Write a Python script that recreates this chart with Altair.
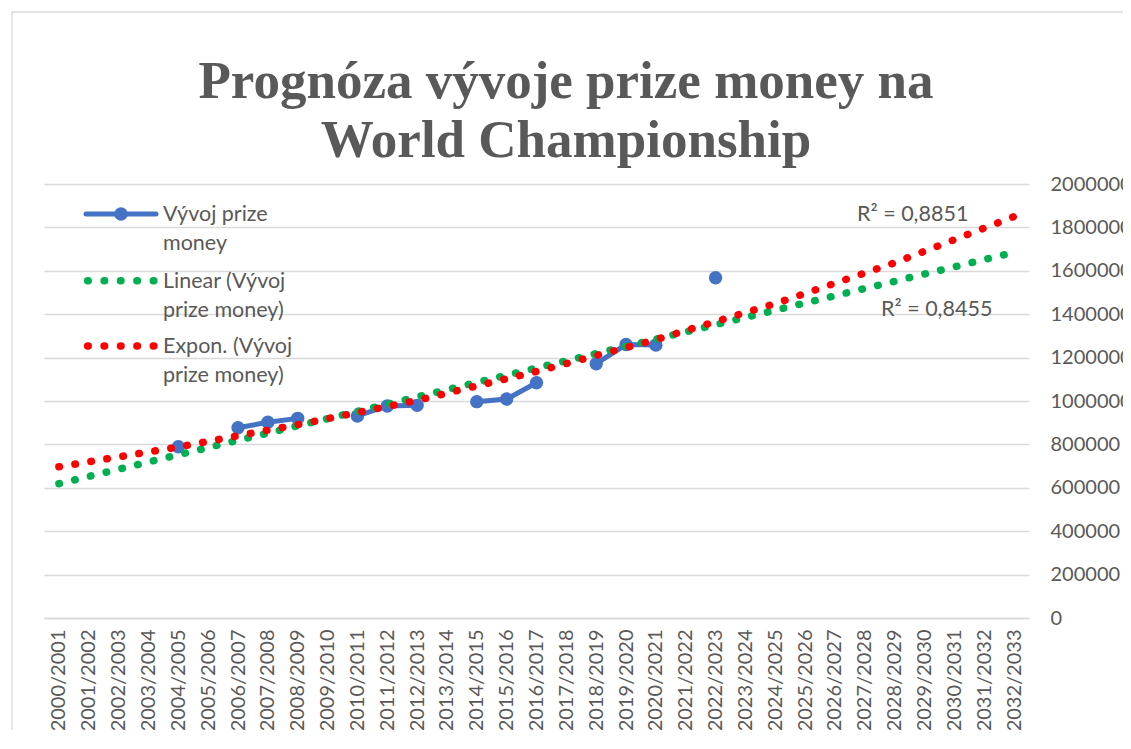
import altair as alt
import pandas as pd

# ---------------- data ----------------
seasons = [
    "2000/2001", "2001/2002", "2002/2003", "2003/2004", "2004/2005", "2005/2006",
    "2006/2007", "2007/2008", "2008/2009", "2009/2010", "2010/2011", "2011/2012",
    "2012/2013", "2013/2014", "2014/2015", "2015/2016", "2016/2017", "2017/2018",
    "2018/2019", "2019/2020", "2020/2021", "2021/2022", "2022/2023", "2023/2024",
    "2024/2025", "2025/2026", "2026/2027", "2027/2028", "2028/2029", "2029/2030",
    "2030/2031", "2031/2032", "2032/2033",
]
prize = [
    None, None, None, None, 789000, None,
    877000, 902000, 920000, None, 931000, 977000,
    980000, None, 997000, 1009000, 1084000, None,
    1172000, 1260000, 1258000, None, 1568000, None,
    None, None, None, None, None, None,
    None, None, None,
]
lin_seasons = ["2000/2001", "2032/2033"]
lin_values = [619000, 1685000]
exp_seasons = ["2000/2001", "2004/2005", "2008/2009", "2012/2013", "2016/2017",
               "2020/2021", "2024/2025", "2028/2029", "2032/2033"]
exp_values = [697000, 788000, 891000, 1003000, 1136000, 1283000, 1449000, 1637000, 1850000]
y_ticks = [0, 200000, 400000, 600000, 800000, 1000000, 1200000, 1400000, 1600000, 1800000, 2000000]

title_lines = ["Prognóza vývoje prize money na", "World Championship"]
r2_exp = "R² = 0,8851"
r2_lin = "R² = 0,8455"

# ---------------- tables ----------------
rows = []
seg = 0
prev = None
for s, v in zip(seasons, prize):
    if v is None:
        prev = None
        continue
    if prev is None:
        seg += 1
    rows.append({"season": s, "value": v, "seg": seg})
    prev = v
obs = pd.DataFrame(rows)
lin = pd.DataFrame({"season": lin_seasons, "value": lin_values, "order": range(len(lin_seasons))})
expo = pd.DataFrame({"season": exp_seasons, "value": exp_values, "order": range(len(exp_seasons))})

BLUE = "#4472C4"
GREEN = "#00B050"
RED = "#FF0000"
GREY = "#595959"
GRID = "#D9D9D9"
FONT = "Lato"

W, H = 985, 434

x_enc = alt.X(
    "season:N",
    sort=seasons,
    scale=alt.Scale(domain=seasons),
    axis=alt.Axis(
        title=None, labelAngle=270, labelFontSize=20, labelFont=FONT, labelColor=GREY,
        labelPadding=11, ticks=False, domain=True, domainColor=GRID, domainWidth=1.3,
        grid=False, labelLimit=200,
    ),
)
y_enc = alt.Y(
    "value:Q",
    scale=alt.Scale(domain=[0, 2000000], nice=False, zero=True),
    axis=alt.Axis(
        title=None, orient="right", values=y_ticks, format="d", labelFontSize=20,
        labelFont=FONT, labelColor=GREY, labelPadding=21, ticks=False, domain=False,
        grid=True, gridColor=GRID, gridWidth=1.3,
    ),
)

base_obs = alt.Chart(obs)
blue_line = base_obs.mark_line(color=BLUE, strokeWidth=5, strokeCap="round").encode(
    x=x_enc, y=y_enc, detail="seg:N"
)
blue_pts = base_obs.mark_circle(color=BLUE, size=180, opacity=1).encode(x=x_enc, y=y_enc)

dots = dict(strokeWidth=7.5, strokeCap="round", strokeDash=[0.5, 15.7])
green_trend = alt.Chart(lin).mark_line(color=GREEN, **dots).encode(
    x=x_enc, y=y_enc, order="order:Q"
)
red_trend = alt.Chart(expo).mark_line(color=RED, **dots).encode(
    x=x_enc, y=y_enc, order="order:Q"
)

# ---------------- decorations (title, legend, labels, border) ----------------
one = alt.Chart(pd.DataFrame({"k": [0]}))

border = one.mark_rect(filled=False, stroke=GRID, strokeWidth=1.3).encode(
    x=alt.value(-32), x2=alt.value(1100), y=alt.value(-172), y2=alt.value(600)
)

def txt(label, x, y, size=21.5):
    return one.mark_text(
        text=label, font=FONT, fontSize=size, color=GREY, align="left", baseline="middle"
    ).encode(x=alt.value(x), y=alt.value(y))

def title_txt(label, y):
    return one.mark_text(
        text=label, font="Liberation Serif", fontSize=53, fontWeight="bold", color=GREY,
        align="center", baseline="alphabetic",
    ).encode(x=alt.value(522), y=alt.value(y))

titles = [title_txt(title_lines[0], -86), title_txt(title_lines[1], -27)]

leg_blue_line = one.mark_rule(color=BLUE, strokeWidth=5, strokeCap="round").encode(
    x=alt.value(42), x2=alt.value(112), y=alt.value(30)
)
leg_blue_pt = one.mark_circle(color=BLUE, size=180, opacity=1).encode(
    x=alt.value(77), y=alt.value(30)
)
leg_green = one.mark_rule(color=GREEN, strokeWidth=7.5, strokeCap="round",
                          strokeDash=[0.5, 15.9]).encode(
    x=alt.value(43.7), x2=alt.value(110), y=alt.value(96.7)
)
leg_red = one.mark_rule(color=RED, strokeWidth=7.5, strokeCap="round",
                        strokeDash=[0.5, 15.9]).encode(
    x=alt.value(43.7), x2=alt.value(110), y=alt.value(162)
)
legend_texts = [
    txt("Vývoj prize", 119, 31), txt("money", 119, 60),
    txt("Linear (Vývoj", 119, 98), txt("prize money)", 119, 127),
    txt("Expon. (Vývoj", 119, 163), txt("prize money)", 119, 192),
]
r2_texts = [txt(r2_exp, 813, 31), txt(r2_lin, 837, 126)]

chart = alt.layer(
    border, blue_line, blue_pts, green_trend, red_trend,
    leg_blue_line, leg_blue_pt, leg_green, leg_red, *legend_texts, *r2_texts, *titles,
).properties(
    width=W,
    height=H,
    autosize=alt.AutoSizeParams(type="none"),
    padding={"left": 36, "top": 176, "right": 94, "bottom": 112},
).configure(background="white").configure_view(stroke=None)

chart.save("out.html", embed_options={"renderer": "svg", "actions": False})
